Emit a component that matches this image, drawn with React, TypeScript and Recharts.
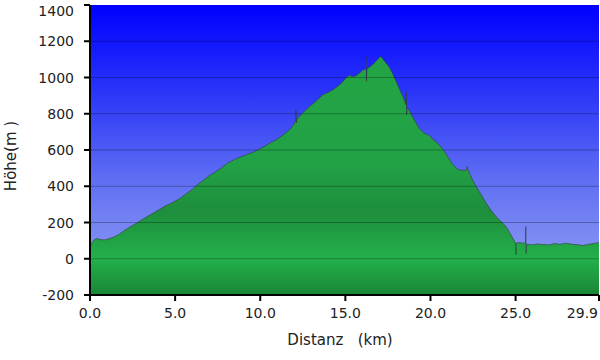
import React from 'react';
import { AreaChart, Area, XAxis, YAxis, CartesianGrid, ReferenceLine, Label } from 'recharts';

const distanceKm = [
  0.0, 0.1, 0.25, 0.4, 0.6, 0.85, 1.1, 1.4, 1.7, 2.0, 2.4, 2.8, 3.2, 3.6, 4.0, 4.4, 4.8, 5.2, 5.6, 6.0,
  6.4, 6.7, 7.0, 7.3, 7.7, 8.1, 8.5, 8.9, 9.3, 9.7, 10.0, 10.3, 10.6, 10.95, 11.3, 11.73, 12.0, 12.08, 12.1, 12.12,
  12.15, 12.5, 12.9, 13.3, 13.68, 14.0, 14.27, 14.6, 14.86, 15.05, 15.25, 15.4, 15.6, 15.84, 16.0, 16.19, 16.21, 16.24, 16.27, 16.45,
  16.62, 16.85, 17.05, 17.15, 17.3, 17.5, 17.65, 17.79, 18.0, 18.18, 18.4, 18.56, 18.58, 18.6, 18.63, 18.8, 19.0, 19.35, 19.6, 19.94,
  20.13, 20.4, 20.72, 21.0, 21.31, 21.6, 21.85, 22.09, 22.15, 22.25, 22.45, 22.68, 23.0, 23.27, 23.55, 23.85, 24.15, 24.44, 24.65, 24.83,
  24.95, 25.0, 25.02, 25.04, 25.2, 25.41, 25.58, 25.6, 25.62, 25.64, 25.8, 26.0, 26.3, 26.6, 26.98, 27.3, 27.6, 27.96, 28.3, 28.6,
  28.94, 29.3, 29.72, 29.9,
];

const elevationM = [
  60, 85, 105, 112, 106, 104, 110, 120, 134, 155, 178, 200, 224, 245, 268, 290, 308, 328, 355, 382,
  415, 436, 458, 475, 500, 528, 548, 564, 578, 592, 608, 622, 640, 657, 680, 712, 745, 765, 822, 749,
  770, 805, 840, 872, 905, 918, 932, 955, 978, 1000, 1012, 1005, 1008, 1025, 1040, 1047, 1118, 980, 1048, 1060,
  1072, 1095, 1116, 1110, 1090, 1068, 1045, 1020, 975, 935, 890, 850, 920, 795, 838, 810, 775, 718, 695, 680,
  660, 640, 605, 565, 520, 492, 488, 487, 508, 480, 440, 399, 350, 307, 268, 233, 205, 178, 145, 114,
  95, 86, 22, 86, 90, 86, 88, 178, 30, 80, 78, 77, 82, 78, 77, 84, 80, 86, 80, 78,
  73, 80, 86, 90,
];

const xTicks = [0, 5, 10, 15, 20, 25, 29.9];
const yTicks = [-200, 0, 200, 400, 600, 800, 1000, 1200, 1400];

const data = distanceKm.map((d, i) => ({ km: d, m: elevationM[i] }));

const font = 'DejaVu Sans, Verdana, sans-serif';

const XTick = (props: any) => {
  const { x, y, payload } = props;
  const v: number = payload.value;
  const last = v === xTicks[xTicks.length - 1];
  return (
    <text
      x={last ? x - 1 : x}
      y={y + 12}
      textAnchor={last ? 'end' : 'middle'}
      fill="#222"
      fontSize={14}
      fontFamily={font}
    >
      {v.toFixed(1)}
    </text>
  );
};

const YTick = (props: any) => {
  const { x, y, payload } = props;
  const v: number = payload.value;
  const top = v === yTicks[yTicks.length - 1];
  return (
    <text x={x} y={(top ? y + 6 : y) + 5} textAnchor="end" fill="#222" fontSize={14} fontFamily={font}>
      {String(v)}
    </text>
  );
};

export default function App() {
  return (
    <div style={{ position: 'absolute', left: 0, top: 0, width: 600, height: 360, background: '#fff' }}>
      <AreaChart width={600} height={360} data={data} margin={{ top: 5, right: 1, bottom: 0, left: 0 }}>
        <defs>
          <linearGradient id="skyGrad" x1="0" y1="0" x2="0" y2="1">
            <stop offset="0" stopColor="#0000ff" />
            <stop offset="0.3" stopColor="#2a35f8" />
            <stop offset="0.6" stopColor="#5f6ef2" />
            <stop offset="0.87" stopColor="#8595f2" />
            <stop offset="1" stopColor="#8a9af3" />
          </linearGradient>
          <linearGradient id="groundGrad" x1="0" y1="0" x2="0" y2="1">
            <stop offset="0" stopColor="#23a444" />
            <stop offset="0.45" stopColor="#22a246" />
            <stop offset="0.65" stopColor="#1e8e3c" />
            <stop offset="0.85" stopColor="#23b04b" />
            <stop offset="1" stopColor="#198536" />
          </linearGradient>
        </defs>
        <CartesianGrid horizontal={false} vertical={false} fill="url(#skyGrad)" fillOpacity={1} />
        <XAxis
          dataKey="km"
          type="number"
          domain={[0, 29.9]}
          ticks={xTicks}
          interval={0}
          height={65}
          stroke="#000"
          strokeWidth={2}
          tickSize={6}
          tickMargin={5}
          tick={<XTick />}
          allowDataOverflow
        >
          <Label
            content={() => (
              <text x={340} y={345} textAnchor="middle" fill="#222" fontSize={15} fontFamily={font} style={{ whiteSpace: 'pre' }}>
                {'Distanz   (km)'}
              </text>
            )}
          />
        </XAxis>
        <YAxis
          type="number"
          domain={[-200, 1400]}
          ticks={yTicks}
          interval={0}
          width={90}
          stroke="#000"
          strokeWidth={2}
          tickSize={6}
          tickMargin={10}
          tick={<YTick />}
          allowDataOverflow
        >
          <Label
            content={() => (
              <text
                x={16}
                y={156}
                transform="rotate(-90 16 156)"
                textAnchor="middle"
                fill="#222"
                fontSize={15}
                fontFamily={font}
                style={{ whiteSpace: 'pre' }}
              >
                {'Höhe(m )'}
              </text>
            )}
          />
        </YAxis>
        <Area
          type="linear"
          dataKey="m"
          baseValue={-200}
          stroke="#333"
          strokeOpacity={0.55}
          strokeWidth={1}
          fill="url(#groundGrad)"
          fillOpacity={1}
          isAnimationActive={false}
          dot={false}
          activeDot={false}
        />
        {yTicks.slice(1, -1).map((v) => (
          <ReferenceLine key={v} y={v} stroke="#000" strokeOpacity={0.28} strokeWidth={1} />
        ))}
      </AreaChart>
    </div>
  );
}
